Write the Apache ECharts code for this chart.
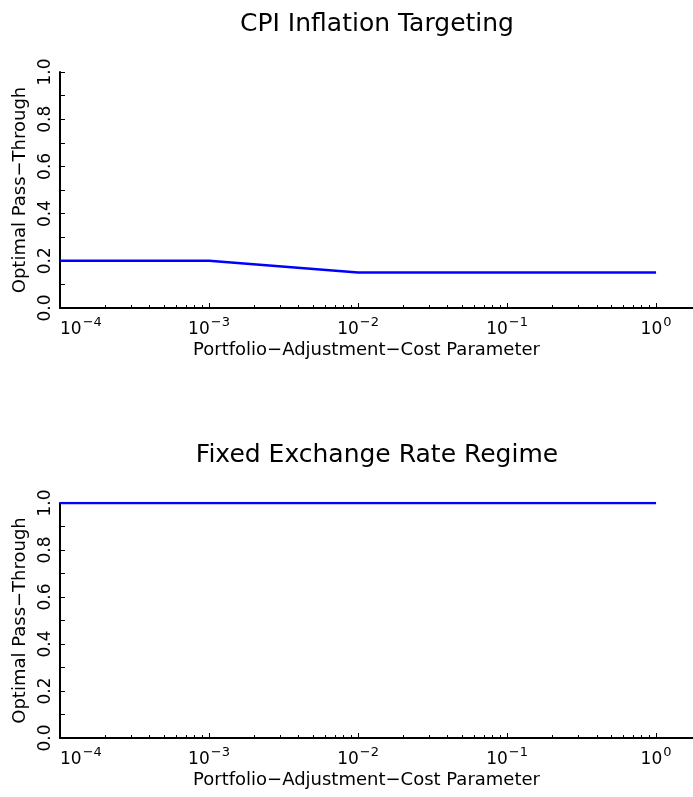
<!DOCTYPE html>
<html>
<head>
<meta charset="utf-8">
<script src="https://cdn.jsdelivr.net/npm/echarts@6/dist/echarts.min.js"></script>
<style>
  html, body { margin: 0; padding: 0; background: #fff; }
  #main { width: 693px; height: 797px; }
</style>
</head>
<body>
<div id="main"></div>
<script>
// portfolio-adjustment-cost parameter values (x)
var costParam = [0.0001, 0.001, 0.01, 0.1, 1];
// optimal pass-through under each regime
var cpiPassThrough = [0.20, 0.20, 0.15, 0.15, 0.15];
var fixedPassThrough = [1.0, 1.0, 1.0, 1.0, 1.0];
var panelTitles = ['CPI Inflation Targeting', 'Fixed Exchange Rate Regime'];
var xName = 'Portfolio\u2212Adjustment\u2212Cost Parameter';
var yName = 'Optimal Pass\u2212Through';
var xMajorTicks = [0.0001, 0.001, 0.01, 0.1, 1];

var font = 'DejaVu Sans';
var xMin = 0.0001, xMax = 1.77;

// minor ticks at 2..9 x 10^n
var minorTicks = [];
for (var e = -4; e < 0; e++) {
  for (var m = 2; m <= 9; m++) minorTicks.push(m * Math.pow(10, e));
}

function pairs(xs, ys) {
  var out = [];
  for (var i = 0; i < xs.length; i++) out.push([xs[i], ys[i]]);
  return out;
}

function powLabel(v) {
  var ex = Math.round(Math.log10(v));
  var sup = ex < 0 ? '\u2212' + (-ex) : String(ex);
  return '{b|10}{s|' + sup + '}';
}

function mainX(gi) {
  return {
    type: 'log', logBase: 10, gridIndex: gi, min: xMin, max: xMax,
    name: xName, nameLocation: 'middle', nameGap: 33,
    nameTextStyle: { fontFamily: font, fontSize: 18, color: '#000', padding: [0, 20, 0, 0] },
    axisLine: { show: true, lineStyle: { color: '#000', width: 2 } },
    axisTick: { show: true, inside: true, length: 5, customValues: xMajorTicks, lineStyle: { color: '#000', width: 1 } },
    minorTick: { show: false },
    splitLine: { show: false },
    axisLabel: {
      margin: 8, formatter: powLabel, alignMinLabel: 'left', customValues: xMajorTicks,
      rich: {
        b: { fontFamily: font, fontSize: 17, color: '#000', lineHeight: 22, verticalAlign: 'bottom' },
        s: { fontFamily: font, fontSize: 13, color: '#000', lineHeight: 22, verticalAlign: 'top', padding: [0, 0, 0, 1] }
      }
    }
  };
}

function minorX(gi) {
  return {
    type: 'log', logBase: 10, gridIndex: gi, min: xMin, max: xMax, position: 'bottom',
    axisLine: { show: false },
    axisTick: { show: true, inside: true, length: 3, customValues: minorTicks, lineStyle: { color: '#000', width: 1 } },
    axisLabel: { show: false },
    splitLine: { show: false }
  };
}

function yAx(gi) {
  return {
    type: 'value', gridIndex: gi, min: 0, max: 1, interval: 0.2,
    name: yName, nameLocation: 'middle', nameGap: 31, nameRotate: 90,
    nameTextStyle: { fontFamily: font, fontSize: 18, color: '#000' },
    axisLine: { show: true, onZero: false, lineStyle: { color: '#000', width: 2 } },
    axisTick: { show: true, inside: true, length: 5, lineStyle: { color: '#000', width: 1 } },
    minorTick: { show: true, splitNumber: 2, length: 5, lineStyle: { color: '#000', width: 1 } },
    splitLine: { show: false },
    minorSplitLine: { show: false },
    axisLabel: {
      rotate: 90, margin: 6, fontFamily: font, fontSize: 17, color: '#000',
      formatter: function (v) { return v.toFixed(1); }
    }
  };
}

function titleText(txt, y) {
  return {
    type: 'text', x: 377, y: y,
    style: { text: txt, fontFamily: font, fontSize: 25, fill: '#000', textAlign: 'center', textVerticalAlign: 'middle' }
  };
}

var chart = echarts.init(document.getElementById('main'));
chart.setOption({
  animation: false,
  backgroundColor: '#fff',
  graphic: [titleText(panelTitles[0], 24), titleText(panelTitles[1], 455)],
  grid: [
    { left: 60, right: 0, top: 72, height: 236 },
    { left: 60, right: 0, top: 503, height: 235 }
  ],
  xAxis: [mainX(0), minorX(0), mainX(1), minorX(1)],
  yAxis: [yAx(0), yAx(1)],
  series: [
    { type: 'line', xAxisIndex: 0, yAxisIndex: 0, data: pairs(costParam, cpiPassThrough),
      showSymbol: false, lineStyle: { color: '#0000ff', width: 2.5 } },
    { type: 'line', xAxisIndex: 2, yAxisIndex: 1, data: pairs(costParam, fixedPassThrough),
      showSymbol: false, lineStyle: { color: '#0000ff', width: 2.5 } }
  ]
});
</script>
</body>
</html>
